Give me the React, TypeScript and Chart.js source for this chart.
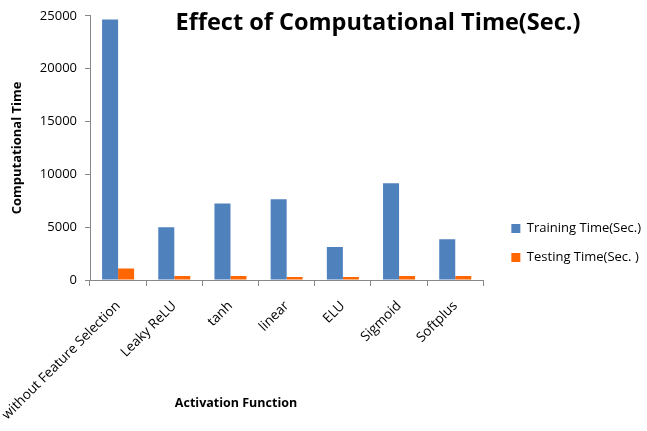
import React, { useEffect, useRef } from "react";
import { Chart, registerables } from "chart.js";

Chart.register(...registerables);

const categories = [
  "without Feature Selection",
  "Leaky ReLU",
  "tanh",
  "linear",
  "ELU",
  "Sigmoid",
  "Softplus",
];
const trainingTime = [24650, 5000, 7250, 7630, 3120, 9150, 3850];
const testingTime = [1100, 380, 380, 290, 280, 380, 380];
const yTicks = [0, 5000, 10000, 15000, 20000, 25000];

const chartTitle = "Effect of Computational Time(Sec.)";
const xTitle = "Activation Function";
const yTitle = "Computational Time";

const FONT = "'Open Sans', sans-serif";

const titlesPlugin = {
  id: "customTitles",
  afterLayout(chart: any) {
    const lg = chart.legend;
    if (lg) {
      const center = 243;
      lg.top = center - 60;
      lg.bottom = center + 60;
      lg.left = lg.left + 12;
      lg.right = lg.right + 12;
    }
  },
  afterDraw(chart: any) {
    const ctx = chart.ctx;
    ctx.save();
    ctx.fillStyle = "#000";
    ctx.textAlign = "center";
    ctx.textBaseline = "middle";
    ctx.font = `bold 23.5px ${FONT}`;
    ctx.fillText(chartTitle, 378, 23);
    ctx.font = `bold 12.5px ${FONT}`;
    ctx.fillText(xTitle, 236, 403);
    ctx.restore();
  },
};

export default function App() {
  const ref = useRef<HTMLCanvasElement | null>(null);
  useEffect(() => {
    if (!ref.current) return;
    const chart = new Chart(ref.current, {
      type: "bar",
      data: {
        labels: categories,
        datasets: [
          {
            label: "Training Time(Sec.)",
            data: trainingTime,
            backgroundColor: "#4F81BD",
            categoryPercentage: 0.57,
            barPercentage: 1,
          },
          {
            label: "Testing Time(Sec. )",
            data: testingTime,
            backgroundColor: "#FF6600",
            categoryPercentage: 0.57,
            barPercentage: 1,
          },
        ],
      },
      options: {
        animation: false,
        responsive: false,
        maintainAspectRatio: false,
        layout: { padding: { top: 9, left: 0, right: 8, bottom: 0 } },
        plugins: {
          title: { display: false },
          tooltip: { enabled: false },
          legend: {
            position: "right",
            align: "center",
            labels: {
              boxWidth: 9,
              boxHeight: 9,
              padding: 16,
              color: "#000",
              font: { family: FONT, size: 13 },
            },
          },
        },
        scales: {
          x: {
            grid: {
              drawOnChartArea: false,
              offset: true,
              tickLength: 6,
              color: "#888",
            },
            border: { color: "#888" },
            ticks: {
              minRotation: 45,
              maxRotation: 45,
              color: "#000",
              font: { family: FONT, size: 13.5 },
              padding: 12,
            },
            afterFit: (scale: any) => {
              scale.height = 151;
              scale.paddingLeft = 0;
              scale.paddingRight = 0;
            },
          },
          y: {
            min: 0,
            max: 25000,
            afterBuildTicks: (scale: any) => {
              scale.ticks = yTicks.map((v) => ({ value: v }));
            },
            grid: { drawOnChartArea: false, tickLength: 5, color: "#888" },
            border: { color: "#888" },
            ticks: {
              color: "#000",
              font: { family: FONT, size: 13 },
              padding: 8,
              callback: (v: any) => String(v),
            },
            title: {
              display: true,
              text: yTitle,
              color: "#000",
              font: { family: FONT, size: 13, weight: "bold" },
              padding: { top: 9, bottom: 0 },
            },
            afterFit: (scale: any) => {
              scale.width = 90;
            },
          },
        },
      },
      plugins: [titlesPlugin],
    });
    return () => chart.destroy();
  }, []);
  return (
    <div style={{ position: "fixed", left: 0, top: 0, width: 647, height: 431, background: "#fff" }}>
      <canvas ref={ref} width={647} height={431} style={{ width: 647, height: 431 }} />
    </div>
  );
}
